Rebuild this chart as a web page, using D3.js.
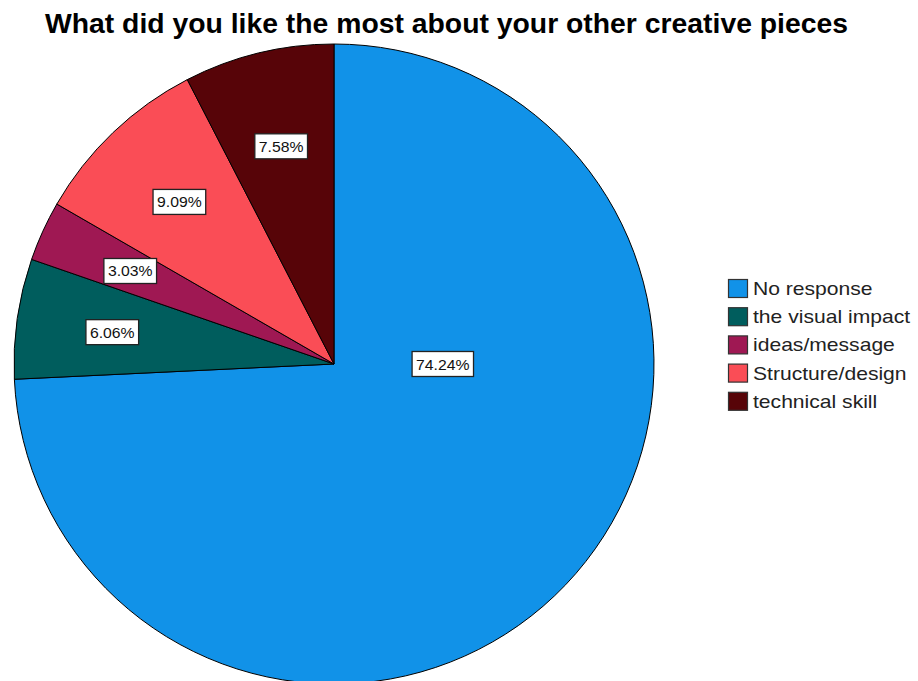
<!DOCTYPE html>
<html>
<head>
<meta charset="utf-8">
<script src="https://cdn.jsdelivr.net/npm/d3@7"></script>
<style>
  html, body { margin: 0; padding: 0; background: #fff; }
  svg { display: block; }
  text { font-family: "Liberation Sans", Arial, sans-serif; }
</style>
</head>
<body>
<svg id="chart" width="918" height="681"></svg>
<script>
// Responses to "What did you like the most about your other creative pieces"
const categories = ["No response", "the visual impact", "ideas/message", "Structure/design", "technical skill"];
const percents = [74.24, 6.06, 3.03, 9.09, 7.58];
const colors = ["#1192e8", "#005d5d", "#9f1853", "#fa4d56", "#570408"];
const title = "What did you like the most about your other creative pieces";

const svg = d3.select("#chart");
const cx = 334, cy = 364, R = 320;

// title (bold, condensed to fit)
svg.append("text")
  .attr("x", 45).attr("y", 33)
  .attr("font-size", 28).attr("font-weight", "bold")
  .attr("textLength", 803).attr("lengthAdjust", "spacingAndGlyphs")
  .text(title);

const pie = d3.pie().sort(null).value(d => d.value);
const arcs = pie(categories.map((c, i) => ({ name: c, value: percents[i], color: colors[i] })));

const arc = d3.arc().innerRadius(0).outerRadius(R);
const labelArc = d3.arc().innerRadius(R * 0.7).outerRadius(R * 0.7);

const g = svg.append("g").attr("transform", `translate(${cx},${cy})`);

g.selectAll("path.slice")
  .data(arcs)
  .join("path")
  .attr("class", "slice")
  .attr("d", arc)
  .attr("fill", d => d.data.color)
  .attr("stroke", "#000")
  .attr("stroke-width", 1);

// percentage labels in white boxes
const labels = g.selectAll("g.lbl")
  .data(arcs)
  .join("g")
  .attr("class", "lbl")
  .attr("transform", d => {
    const frac = d.data.value / 100;
    // a dominant slice gets its label level with the centre
    const p = frac > 0.5 ? [R * 0.34, 0] : labelArc.centroid(d);
    return `translate(${p[0]},${p[1]})`;
  });

labels.each(function(d) {
  const sel = d3.select(this);
  const t = sel.append("text")
    .attr("text-anchor", "middle")
    .attr("dominant-baseline", "central")
    .attr("font-size", 15)
    .attr("fill", "#111")
    .text(d.data.value.toFixed(2) + "%");
  const w = this.querySelector("text").getComputedTextLength() * 1.05;
  t.attr("textLength", w).attr("lengthAdjust", "spacingAndGlyphs");
  sel.insert("rect", "text")
    .attr("x", -w / 2 - 4).attr("y", -12.5)
    .attr("width", w + 8).attr("height", 25)
    .attr("fill", "#fff")
    .attr("stroke", "#222")
    .attr("stroke-width", 1.3);
});

// legend
const legend = svg.append("g").attr("transform", "translate(728,279)");
const rowH = 28.2;
const items = legend.selectAll("g.item")
  .data(arcs)
  .join("g")
  .attr("class", "item")
  .attr("transform", (d, i) => `translate(0,${i * rowH})`);

items.append("rect")
  .attr("x", 0.5).attr("y", 0.5)
  .attr("width", 19).attr("height", 18)
  .attr("fill", d => d.data.color)
  .attr("stroke", "#333")
  .attr("stroke-width", 1.2);

items.append("text")
  .attr("x", 25).attr("y", 16)
  .attr("font-size", 18.5)
  .attr("fill", "#222")
  .text(d => d.data.name)
  .each(function() {
    const w = this.getComputedTextLength() * 1.14;
    d3.select(this).attr("textLength", w).attr("lengthAdjust", "spacingAndGlyphs");
  });
</script>
</body>
</html>
